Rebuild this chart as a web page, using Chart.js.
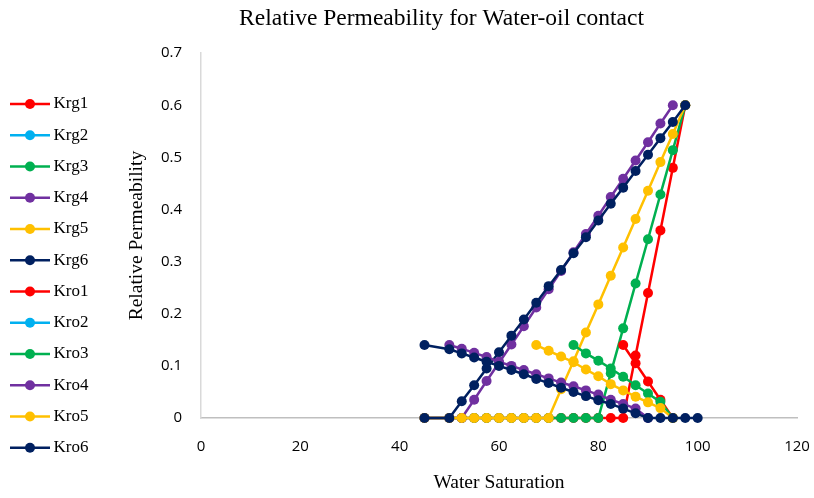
<!DOCTYPE html>
<html><head><meta charset="utf-8">
<script src="https://cdn.jsdelivr.net/npm/chart.js@4.4.1/dist/chart.umd.min.js"></script>
<style>html,body{margin:0;padding:0;background:#fff;overflow:hidden;}</style>
</head><body>
<canvas id="c" width="814" height="498" style="display:block;width:814px;height:498px"></canvas>
<script>
const titleText = 'Relative Permeability for Water-oil contact';
const xTitleText = 'Water Saturation';
const yTitleText = 'Relative Permeability';

const seriesNames = ['Krg1','Krg2','Krg3','Krg4','Krg5','Krg6','Kro1','Kro2','Kro3','Kro4','Kro5','Kro6'];
const seriesColors = ['#FF0000','#00B0F0','#00B050','#7030A0','#FFC000','#002060',
                      '#FF0000','#00B0F0','#00B050','#7030A0','#FFC000','#002060'];

const xTickValues = [0, 20, 40, 60, 80, 100, 120];
const yTickValues = [0, 0.1, 0.2, 0.3, 0.4, 0.5, 0.6, 0.7];
const yTickLabels = ['0', '0.1', '0.2', '0.3', '0.4', '0.5', '0.6', '0.7'];

// Gas relative permeability (Krg) - water saturation grid
const swKrg = [45, 50, 52.5, 55, 57.5, 60, 62.5, 65, 67.5, 70, 72.5, 75, 77.5, 80, 82.5, 85, 87.5, 90, 92.5, 95, 97.5];
const krg1 = [0, 0, 0, 0, 0, 0, 0, 0, 0, 0, 0, 0, 0, 0, 0, 0, 0.12, 0.24, 0.36, 0.48, 0.6];
const krg2 = [];
const krg3 = [0, 0, 0, 0, 0, 0, 0, 0, 0, 0, 0, 0, 0, 0, 0.086, 0.172, 0.258, 0.343, 0.429, 0.514, 0.6];
const krg4 = [0, 0, 0, 0.035, 0.071, 0.106, 0.141, 0.176, 0.212, 0.247, 0.282, 0.318, 0.353, 0.388, 0.424, 0.459, 0.494, 0.529, 0.565, 0.6, null];
const krg5 = [0, 0, 0, 0, 0, 0, 0, 0, 0, 0, 0.055, 0.109, 0.164, 0.218, 0.273, 0.327, 0.382, 0.436, 0.491, 0.545, 0.6];
const krg6 = [0, 0, 0.032, 0.063, 0.095, 0.126, 0.158, 0.189, 0.221, 0.253, 0.284, 0.316, 0.347, 0.379, 0.411, 0.442, 0.474, 0.505, 0.537, 0.568, 0.6];

// Oil relative permeability (Kro)
const swKro1 = [85, 87.5, 90, 92.5, 95];
const kro1 = [0.14, 0.105, 0.07, 0.035, 0];
const swKro2 = [];
const kro2 = [];
const swKro3 = [75, 77.5, 80, 82.5, 85, 87.5, 90, 92.5, 95];
const kro3 = [0.14, 0.124, 0.11, 0.095, 0.079, 0.063, 0.047, 0.031, 0];
const swKro4 = [50, 52.5, 55, 57.5, 60, 62.5, 65, 67.5, 70, 72.5, 75, 77.5, 80, 82.5, 85, 87.5, 90];
const kro4 = [0.14, 0.133, 0.125, 0.117, 0.108, 0.1, 0.092, 0.084, 0.076, 0.068, 0.061, 0.053, 0.045, 0.035, 0.027, 0.018, 0];
const swKro5 = [67.5, 70, 72.5, 75, 77.5, 80, 82.5, 85, 87.5, 90, 92.5, 95];
const kro5 = [0.14, 0.129, 0.118, 0.107, 0.093, 0.08, 0.065, 0.053, 0.041, 0.03, 0.019, 0];
const swKro6 = [45, 50, 52.5, 55, 57.5, 60, 62.5, 65, 67.5, 70, 72.5, 75, 77.5, 80, 82.5, 85, 87.5, 90, 92.5, 95, 97.5, 100];
const kro6 = [0.14, 0.132, 0.124, 0.116, 0.108, 0.1, 0.092, 0.084, 0.075, 0.067, 0.058, 0.05, 0.042, 0.034, 0.027, 0.018, 0.009, 0, 0, 0, 0, 0];

function pairs(xs, ys) {
  const out = [];
  for (let i = 0; i < ys.length; i++) {
    if (ys[i] !== null && ys[i] !== undefined) out.push({x: xs[i], y: ys[i]});
  }
  return out;
}

const seriesData = [
  pairs(swKrg, krg1), pairs(swKrg, krg2), pairs(swKrg, krg3), pairs(swKrg, krg4), pairs(swKrg, krg5), pairs(swKrg, krg6),
  pairs(swKro1, kro1), pairs(swKro2, kro2), pairs(swKro3, kro3), pairs(swKro4, kro4), pairs(swKro5, kro5), pairs(swKro6, kro6)
];

const datasets = seriesNames.map((name, i) => ({
  label: name,
  data: seriesData[i],
  borderColor: seriesColors[i],
  backgroundColor: seriesColors[i],
  pointBackgroundColor: seriesColors[i],
  pointBorderColor: seriesColors[i],
  borderWidth: 2.5,
  pointRadius: 5,
  pointBorderWidth: 0,
  pointHoverRadius: 5,
  tension: 0,
  fill: false,
  clip: false,
  order: -i
}));

const serif = '"Liberation Serif", "Times New Roman", serif';
const sans = '"Open Sans", "Liberation Sans", sans-serif';

const sideLegend = {
  id: 'sideLegend',
  afterDraw(chart) {
    const ctx = chart.ctx;
    chart.data.datasets.forEach((ds, i) => {
      const y = 104 + i * 31.25;
      ctx.save();
      ctx.strokeStyle = ds.borderColor;
      ctx.lineWidth = 2.5;
      ctx.beginPath();
      ctx.moveTo(10, y);
      ctx.lineTo(50, y);
      ctx.stroke();
      ctx.fillStyle = ds.borderColor;
      ctx.beginPath();
      ctx.arc(30, y, 5, 0, Math.PI * 2);
      ctx.fill();
      ctx.fillStyle = '#000';
      ctx.font = '17px ' + serif;
      ctx.textBaseline = 'middle';
      ctx.textAlign = 'left';
      ctx.fillText(ds.label, 53.5, y);
      ctx.restore();
    });
  }
};

new Chart(document.getElementById('c'), {
  type: 'line',
  data: { datasets },
  plugins: [sideLegend],
  options: {
    responsive: false,
    animation: false,
    devicePixelRatio: 1,
    layout: { padding: { left: 86, right: 17, top: 0, bottom: 0 } },
    plugins: {
      legend: { display: false },
      tooltip: { enabled: false },
      title: {
        display: true,
        text: titleText,
        color: '#000',
        font: { family: serif, size: 23.5, weight: 'normal' },
        padding: { top: 5, bottom: 20 }
      }
    },
    scales: {
      x: {
        type: 'linear',
        min: 0, max: 120,
        afterBuildTicks: s => { s.ticks = xTickValues.map(v => ({ value: v })); },
        afterFit: s => { s.height = 80; s.paddingRight = 0; s.paddingLeft = 0; },
        grid: { display: false, drawTicks: false },
        border: { display: true, color: '#BFBFBF', width: 1.5 },
        ticks: { padding: 20, color: '#000', maxRotation: 0, autoSkip: false, font: { family: sans, size: 15 } },
        title: { display: true, text: xTitleText, color: '#000', font: { family: serif, size: 19.5 }, padding: { top: 0, bottom: 3 } }
      },
      y: {
        type: 'linear',
        min: 0, max: 0.7,
        afterBuildTicks: s => { s.ticks = yTickValues.map(v => ({ value: v })); },
        afterFit: s => { s.width = 115; },
        grid: { display: false, drawTicks: false },
        border: { display: true, color: '#D9D9D9', width: 1.5 },
        ticks: { padding: 19, color: '#000', autoSkip: false, font: { family: sans, size: 15 },
                 callback: (v, i) => yTickLabels[i] },
        title: { display: true, text: yTitleText, color: '#000', font: { family: serif, size: 19.5 }, padding: { top: 39, bottom: 0 } }
      }
    }
  }
});
</script>
</body></html>
